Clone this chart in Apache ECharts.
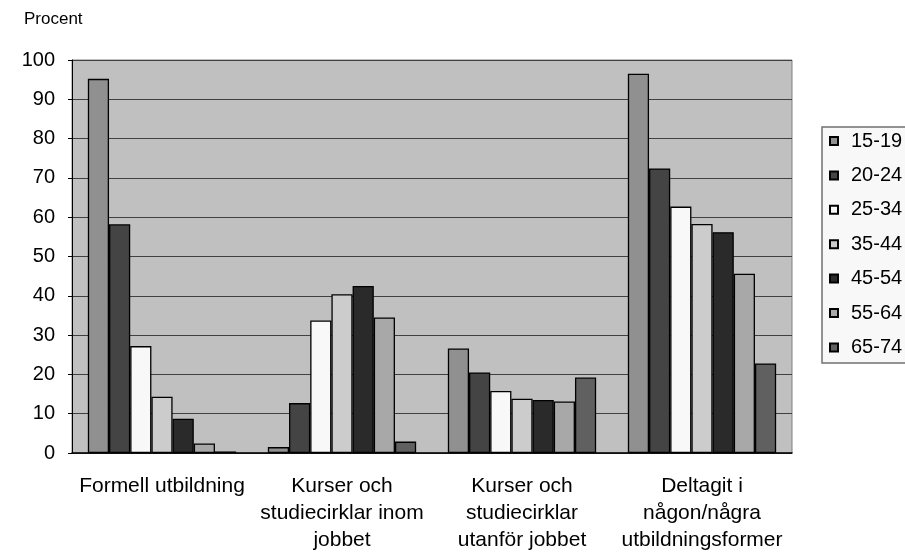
<!DOCTYPE html>
<html><head><meta charset="utf-8">
<script src="https://cdn.jsdelivr.net/npm/echarts@6/dist/echarts.min.js"></script>
<style>html,body{margin:0;padding:0;background:#fff}#c{width:905px;height:554px}</style>
</head><body><div id="c"></div>
<script>
const categories = ['Formell utbildning', 'Kurser och\nstudiecirklar inom\njobbet', 'Kurser och\nstudiecirklar\nutanför jobbet', 'Deltagit i\nnågon/några\nutbildningsformer'];
const ageGroups = ['15-19', '20-24', '25-34', '35-44', '45-54', '55-64', '65-74'];
const s1519 = [95.2, 1.5, 26.6, 96.5];
const s2024 = [58.2, 12.7, 20.5, 72.4];
const s2534 = [27.2, 33.7, 15.8, 62.7];
const s3544 = [14.3, 40.4, 13.8, 58.3];
const s4554 = [8.7, 42.5, 13.5, 56.2];
const s5564 = [2.4, 34.5, 13.1, 45.6];
const s6574 = [0.4, 2.9, 19.2, 22.8];
const yTicks = [0, 10, 20, 30, 40, 50, 60, 70, 80, 90, 100];

const seriesData = [s1519, s2024, s2534, s3544, s4554, s5564, s6574];
const colors = ['#909090', '#444444', '#f8f8f8', '#cccccc', '#2a2a2a', '#a8a8a8', '#606060'];
const font = 'Liberation Sans, Arial, sans-serif';

const chart = echarts.init(document.getElementById('c'));
chart.setOption({
  animation: false,
  textStyle: {fontFamily: font},
  grid: {left: 72, right: 113, top: 60, bottom: 98, show: true, backgroundColor: '#c0c0c0', borderColor: '#808080', borderWidth: 1},
  graphic: [
    {type: 'text', left: 24, top: 11, style: {text: 'Procent', font: '17px ' + font, fill: '#000'}},
    {type: 'rect', shape: {x: 822, y: 127, width: 100, height: 236}, style: {fill: '#f8f8f8', stroke: '#707070', lineWidth: 1.5}, z: -1}
  ],
  legend: {
    orient: 'vertical', left: 829, top: 131, padding: 0,
    itemWidth: 8, itemHeight: 8, itemGap: 14.4,
    icon: 'rect',
    textStyle: {fontSize: 20, lineHeight: 20, color: '#000', fontFamily: font, padding: [0, 0, 0, 8]},
    data: ageGroups
  },
  xAxis: {
    type: 'category', data: categories,
    axisLine: {lineStyle: {color: '#000', width: 1.5}},
    axisTick: {show: false},
    axisLabel: {color: '#000', fontSize: 21, lineHeight: 27, margin: 20, interval: 0, fontFamily: font}
  },
  yAxis: {
    type: 'value', min: 0, max: 100, interval: 10,
    axisLine: {show: true, lineStyle: {color: '#000', width: 1}},
    axisTick: {show: true, length: 4, lineStyle: {color: '#000'}},
    splitLine: {lineStyle: {color: '#404040', width: 1}},
    axisLabel: {color: '#000', fontSize: 20, margin: 17, fontFamily: font,
      formatter: v => yTicks.includes(v) ? String(v) : ''}
  },
  series: seriesData.map((d, i) => ({
    name: ageGroups[i], type: 'bar', data: d,
    barGap: '0%', barCategoryGap: '17.6%',
    itemStyle: {color: colors[i], borderColor: '#000', borderWidth: 1.3}
  }))
});
</script></body></html>
